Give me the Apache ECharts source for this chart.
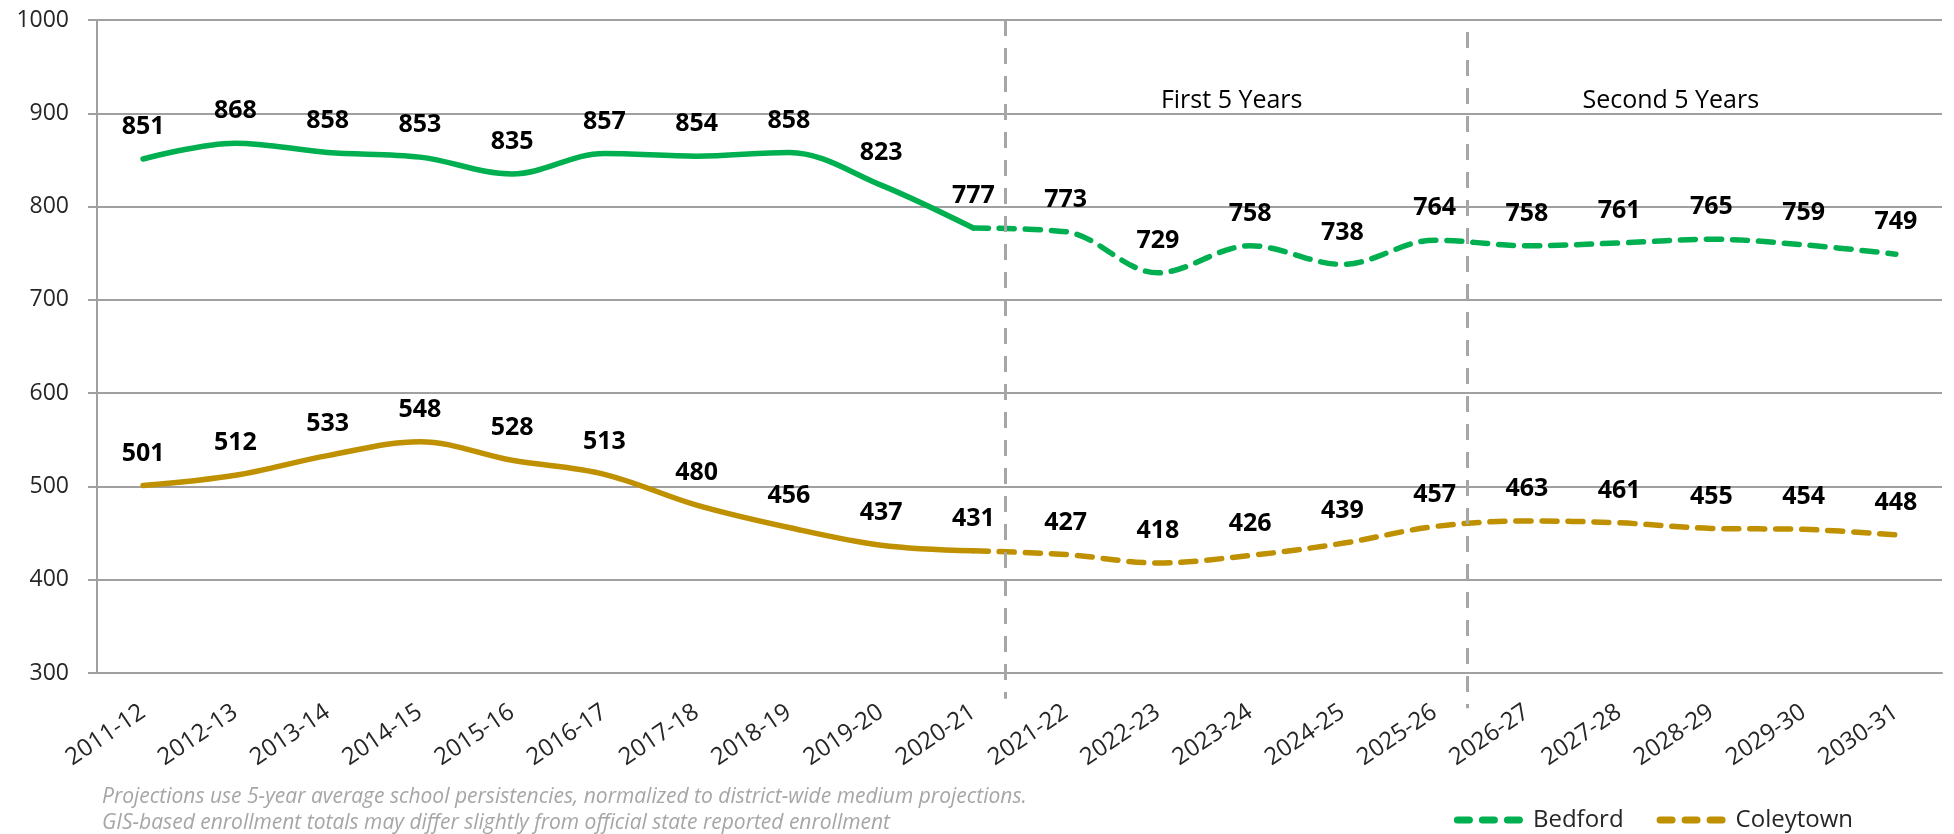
<!DOCTYPE html>
<html>
<head>
<meta charset="utf-8">
<script src="https://cdn.jsdelivr.net/npm/echarts@6/dist/echarts.min.js"></script>
<style>
  html, body { margin: 0; padding: 0; background: #fff; }
  #chart { width: 1954px; height: 834px; }
</style>
</head>
<body>
<div id="chart"></div>
<script>
const years = ['2011-12', '2012-13', '2013-14', '2014-15', '2015-16', '2016-17', '2017-18', '2018-19', '2019-20', '2020-21',
  '2021-22', '2022-23', '2023-24', '2024-25', '2025-26', '2026-27', '2027-28', '2028-29', '2029-30', '2030-31'];
const bedford = [851, 868, 858, 853, 835, 857, 854, 858, 823, 777, 773, 729, 758, 738, 764, 758, 761, 765, 759, 749];
const coleytown = [501, 512, 533, 548, 528, 513, 480, 456, 437, 431, 427, 418, 426, 439, 457, 463, 461, 455, 454, 448];
const lastActual = 9; // 2020-21, projections start after this
const yMin = 300, yMax = 1000, yStep = 100;
const periodNames = ['First 5 Years', 'Second 5 Years'];
const footnote = [
  'Projections use 5-year average school persistencies, normalized to district-wide medium projections.',
  'GIS-based enrollment totals may differ slightly from official state reported enrollment'
];

const FONT = '"Open Sans", "Noto Sans", sans-serif';
const GRID_COLOR = '#a0a0a0';
const GREEN = '#00b050';
const GOLD = '#bf9000';
// three rounded dashes for the legend
const DASH_ICON = 'path://M3.5,0h12a3.5,3.5 0 0 1 0,7h-12a3.5,3.5 0 0 1 0,-7Z' +
  'M28.5,0h12a3.5,3.5 0 0 1 0,7h-12a3.5,3.5 0 0 1 0,-7Z' +
  'M53.5,0h12a3.5,3.5 0 0 1 0,7h-12a3.5,3.5 0 0 1 0,-7Z';

// split each school into a solid (actual) part and a dashed (projection) part
function actualPart (vals) {
  return vals.map((v, i) => i <= lastActual ? v : null);
}
function projPart (vals) {
  return vals.map((v, i) => {
    if (i < lastActual) return null;
    if (i === lastActual) return { value: v, label: { show: false } };
    return v;
  });
}

function lineSeries (name, data, color, dashed) {
  return {
    name: name,
    type: 'line',
    data: data,
    smooth: 0.35,
    symbol: 'circle',
    symbolSize: 1,
    showSymbol: true,
    itemStyle: { color: 'rgba(0,0,0,0)' },
    lineStyle: {
      color: color,
      width: 5.5,
      type: dashed ? [15, 11] : 'solid',
      cap: 'round'
    },
    label: {
      show: true,
      position: 'top',
      distance: 19,
      color: '#000',
      fontFamily: FONT,
      fontWeight: 'bold',
      fontSize: 25
    },
    emphasis: { disabled: true }
  };
}

const chart = echarts.init(document.getElementById('chart'));

chart.setOption({
  backgroundColor: '#fff',
  animation: false,
  textStyle: { fontFamily: FONT },
  grid: [{
    left: 97,
    right: 12,
    top: 20,
    bottom: 161
  }, {
    // same width, reaches a bit below the x axis for the period dividers
    left: 97,
    right: 12,
    top: 20,
    bottom: 124
  }],
  title: {
    text: footnote.join('\n'),
    left: 97,
    top: 779,
    textStyle: {
      fontFamily: FONT,
      fontStyle: 'italic',
      fontWeight: 'normal',
      fontSize: 21,
      lineHeight: 26,
      color: '#a6a6a6'
    }
  },
  legend: {
    data: [
      { name: 'Bedford', icon: DASH_ICON, itemStyle: { color: GREEN, borderWidth: 0 } },
      { name: 'Coleytown', icon: DASH_ICON, itemStyle: { color: GOLD, borderWidth: 0 } }
    ],
    right: 96,
    top: 803,
    itemWidth: 69,
    itemHeight: 7,
    itemGap: 33,
    textStyle: {
      fontFamily: FONT,
      fontSize: 24,
      color: '#262626',
      padding: [0, 0, 0, 5]
    }
  },
  xAxis: [{
    type: 'category',
    data: years,
    boundaryGap: true,
    axisLine: { lineStyle: { color: GRID_COLOR, width: 2 } },
    axisTick: { alignWithLabel: true, length: 8, lineStyle: { color: GRID_COLOR, width: 2 } },
    axisLabel: {
      rotate: 34,
      margin: 37,
      interval: 0,
      fontFamily: FONT,
      fontSize: 24,
      color: '#262626'
    }
  }, {
    gridIndex: 1,
    type: 'value',
    min: -0.5,
    max: years.length - 0.5,
    show: false
  }],
  yAxis: [{
    type: 'value',
    min: yMin,
    max: yMax,
    interval: yStep,
    axisLine: { show: true, onZero: false, lineStyle: { color: GRID_COLOR, width: 2 } },
    axisTick: { show: true, length: 9, lineStyle: { color: GRID_COLOR, width: 2 } },
    splitLine: { lineStyle: { color: GRID_COLOR, width: 2 } },
    axisLabel: {
      margin: 28,
      fontFamily: FONT,
      fontSize: 23,
      color: '#262626',
      formatter: (v) => String(v)
    }
  }, {
    gridIndex: 1,
    type: 'value',
    min: 260,
    max: yMax,
    show: false,
    splitLine: { show: false }
  }],
  series: [
    lineSeries('Bedford actual', actualPart(bedford), GREEN, false),
    lineSeries('Coleytown actual', actualPart(coleytown), GOLD, false),
    lineSeries('Bedford', projPart(bedford), GREEN, true),
    lineSeries('Coleytown', projPart(coleytown), GOLD, true),
    {
      name: 'periods',
      type: 'scatter',
      xAxisIndex: 1,
      yAxisIndex: 1,
      data: [],
      clip: false,
      silent: true,
      markLine: {
        silent: true,
        symbol: 'none',
        label: { show: false },
        lineStyle: { color: '#a6a6a6', width: 3, type: [16, 12] },
        data: [
          [{ coord: [9.35, 1000] }, { coord: [9.35, 272] }],
          [{ coord: [14.35, 987] }, { coord: [14.35, 262] }]
        ]
      },
      markPoint: {
        silent: true,
        symbol: 'rect',
        symbolSize: 1,
        itemStyle: { color: 'rgba(0,0,0,0)' },
        label: {
          show: true,
          position: 'inside',
          formatter: '{b}',
          fontFamily: FONT,
          fontSize: 25,
          color: '#000'
        },
        data: [
          { name: periodNames[0], coord: [11.8, 913] },
          { name: periodNames[1], coord: [16.56, 913] }
        ]
      }
    }
  ]
});
</script>
</body>
</html>
